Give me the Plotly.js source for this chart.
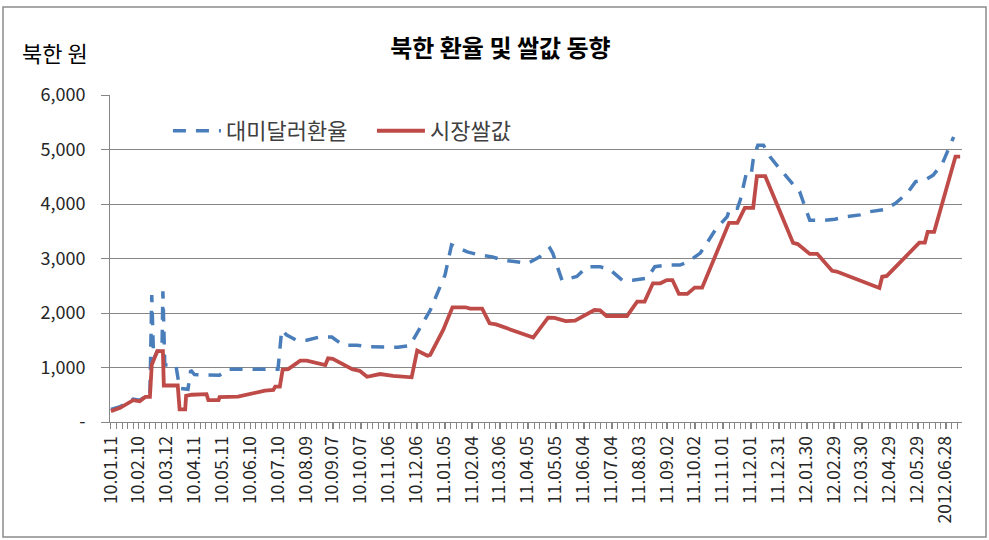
<!DOCTYPE html>
<html>
<head>
<meta charset="utf-8">
<script src="https://cdn.plot.ly/plotly-3.0.1.min.js"></script>
<style>
  html, body { margin: 0; padding: 0; background: #fff; }
  #chart { width: 989px; height: 540px; }
</style>
</head>
<body>
<div id="chart"></div>
<script>
// 축 눈금 (30일 간격 라벨)
const tickDates = ['2010-01-11','2010-02-10','2010-03-12','2010-04-11','2010-05-11','2010-06-10',
  '2010-07-10','2010-08-09','2010-09-07','2010-10-07','2010-11-06','2010-12-06','2011-01-05',
  '2011-02-04','2011-03-06','2011-04-05','2011-05-05','2011-06-04','2011-07-04','2011-08-03',
  '2011-09-02','2011-10-02','2011-11-01','2011-12-01','2011-12-31','2012-01-30','2012-02-29',
  '2012-03-30','2012-04-29','2012-05-29','2012-06-28'];
const tickLabels = ['10.01.11','10.02.10','10.03.12','10.04.11','10.05.11','10.06.10',
  '10.07.10','10.08.09','10.09.07','10.10.07','10.11.06','10.12.06','11.01.05',
  '11.02.04','11.03.06','11.04.05','11.05.05','11.06.04','11.07.04','11.08.03',
  '11.09.02','11.10.02','11.11.01','11.12.01','11.12.31','12.01.30','12.02.29',
  '12.03.30','12.04.29','12.05.29','2012.06.28'];
const yTickVals = [0, 1000, 2000, 3000, 4000, 5000, 6000];
const yTickText = ['-', '1,000', '2,000', '3,000', '4,000', '5,000', '6,000'];

// 대미달러환율 (북한 원)
const fxDates = ['2010-01-11','2010-01-21','2010-02-04','2010-02-11','2010-02-18','2010-02-22',
  '2010-02-24','2010-02-26','2010-03-02','2010-03-07','2010-03-08','2010-03-10','2010-03-22',
  '2010-03-26','2010-04-04','2010-04-07','2010-04-11','2010-05-08','2010-05-17','2010-07-10',
  '2010-07-14','2010-07-19','2010-07-30','2010-08-10','2010-08-24','2010-09-06','2010-09-18',
  '2010-10-03','2010-10-15','2010-10-25','2010-11-04','2010-11-16','2010-11-29','2010-12-21',
  '2011-01-06','2011-01-13','2011-01-30','2011-02-13','2011-02-26','2011-03-09','2011-03-24',
  '2011-04-05','2011-04-18','2011-04-29','2011-05-02','2011-05-12','2011-05-28','2011-06-08',
  '2011-06-22','2011-07-03','2011-07-16','2011-07-27','2011-08-12','2011-08-20','2011-09-02',
  '2011-09-16','2011-09-25','2011-10-08','2011-10-15','2011-10-24','2011-11-06','2011-11-09',
  '2011-11-17','2011-11-20','2011-11-27','2011-12-02','2011-12-04','2011-12-09','2011-12-15',
  '2011-12-22','2011-12-31','2012-01-10','2012-01-18','2012-01-23','2012-01-29','2012-02-03',
  '2012-02-17','2012-03-01','2012-03-14','2012-03-28','2012-04-08','2012-04-24','2012-05-05',
  '2012-05-18','2012-05-27','2012-06-06','2012-06-15','2012-06-25','2012-07-07'];
const fxValues = [230, 280, 420, 400, 480, 480,
  2330, 1150, 1300, 1300, 2400, 1050, 1040,
  620, 600, 950, 870, 860, 970, 970,
  1690, 1600, 1500, 1500, 1560, 1560, 1410,
  1410, 1380, 1380, 1370, 1370, 1400, 2050,
  2700, 3250, 3120, 3060, 3030, 2970, 2940,
  2910, 3030, 3190, 3100, 2600, 2670, 2850,
  2850, 2790, 2600, 2600, 2640, 2850, 2880,
  2880, 2940, 3100, 3280, 3520, 3770, 3920,
  3920, 4070, 4590, 4560, 4810, 5080, 5080,
  4870, 4680, 4470, 4320, 4230, 3950, 3700,
  3700, 3720, 3770, 3800, 3860, 3900, 4010,
  4200, 4410, 4440, 4530, 4750, 5230];

// 시장쌀값 (북한 원)
const riceDates = ['2010-01-11','2010-01-21','2010-02-04','2010-02-11','2010-02-17','2010-02-22',
  '2010-02-24','2010-03-02','2010-03-08','2010-03-09','2010-03-24','2010-03-26','2010-04-01',
  '2010-04-02','2010-04-08','2010-04-24','2010-04-26','2010-05-07','2010-05-08','2010-05-28',
  '2010-06-26','2010-07-05','2010-07-07','2010-07-12','2010-07-15','2010-07-21','2010-08-03',
  '2010-08-10','2010-08-30','2010-09-02','2010-09-07','2010-09-28','2010-10-06','2010-10-14',
  '2010-10-28','2010-11-11','2010-12-01','2010-12-07','2010-12-18','2010-12-21','2011-01-04',
  '2011-01-14','2011-01-28','2011-02-02','2011-02-15','2011-02-23','2011-03-02','2011-04-11',
  '2011-04-27','2011-05-04','2011-05-16','2011-05-26','2011-06-16','2011-06-22','2011-06-29',
  '2011-07-21','2011-08-01','2011-08-09','2011-08-18','2011-08-26','2011-09-02','2011-09-08',
  '2011-09-15','2011-09-24','2011-10-02','2011-10-10','2011-11-08','2011-11-17','2011-11-25',
  '2011-12-04','2011-12-08','2011-12-17','2012-01-16','2012-01-21','2012-02-03','2012-02-11',
  '2012-02-27','2012-03-03','2012-04-18','2012-04-21','2012-04-26','2012-05-31','2012-06-06',
  '2012-06-09','2012-06-16','2012-07-09','2012-07-14'];
const riceValues = [200, 260, 400, 380, 460, 460,
  1050, 1300, 1300, 670, 670, 230, 230,
  480, 500, 510, 400, 400, 455, 465,
  575, 590, 650, 650, 960, 970, 1125,
  1125, 1045, 1170, 1160, 970, 940, 830,
  880, 845, 820, 1310, 1215, 1230, 1690,
  2105, 2105, 2080, 2080, 1810, 1790, 1550,
  1915, 1910, 1850, 1860, 2055, 2050, 1945,
  1945, 2210, 2210, 2545, 2545, 2605, 2605,
  2350, 2350, 2465, 2465, 3655, 3655, 3930,
  3930, 4510, 4510, 3285, 3265, 3085, 3085,
  2775, 2760, 2460, 2665, 2680, 3290, 3290,
  3490, 3490, 4870, 4870];

const fontKR = '"Noto Sans CJK KR", "Noto Sans", sans-serif';
const gray = '#868686';

const traces = [
  {
    x: fxDates, y: fxValues, name: '대미달러환율',
    type: 'scatter', mode: 'lines',
    line: { color: '#4A7EBB', width: 3.5, dash: '13px,10px' }
  },
  {
    x: riceDates, y: riceValues, name: '시장쌀값',
    type: 'scatter', mode: 'lines',
    line: { color: '#BE4B48', width: 3.8 }
  }
];

const layout = {
  width: 989, height: 540,
  paper_bgcolor: '#fff', plot_bgcolor: '#fff',
  margin: { l: 110, r: 27, t: 95, b: 118 },
  font: { family: fontKR, color: '#262626' },
  showlegend: true,
  title: {
    text: '<b>북한 환율 및 쌀값 동향</b>',
    font: { size: 24, color: '#000', family: fontKR },
    x: 0.506, xref: 'container', xanchor: 'center',
    y: 0.91, yref: 'container', yanchor: 'middle'
  },
  legend: {
    orientation: 'h', x: 0.068, xanchor: 'left', y: 0.89, yanchor: 'middle',
    font: { size: 22, color: '#404040', family: fontKR },
    itemwidth: 48,
    bgcolor: 'rgba(0,0,0,0)', entrywidth: 141, entrywidthmode: 'pixels'
  },
  xaxis: {
    type: 'date',
    range: ['2010-01-10', '2012-07-16'],
    tickmode: 'array', tickvals: tickDates, ticktext: tickLabels,
    tickangle: -90,
    tickfont: { size: 17.5, color: '#262626', family: fontKR },
    ticks: 'outside', ticklen: 6, tickcolor: gray,
    minor: { ticks: 'outside', ticklen: 6, tickcolor: gray,
             tickmode: 'linear', tick0: '2010-01-11', dtick: 6 * 86400000, showgrid: false },
    showline: true, linecolor: gray, linewidth: 1,
    showgrid: false, zeroline: false
  },
  yaxis: {
    range: [0, 6000],
    tickmode: 'array', tickvals: yTickVals, ticktext: yTickText,
    tickfont: { size: 18, color: '#262626', family: fontKR },
    ticks: 'outside', ticklen: 8, tickcolor: gray,
    ticklabelstandoff: 12,
    showline: true, linecolor: gray, linewidth: 1,
    showgrid: true, gridcolor: gray, gridwidth: 1,
    zeroline: false
  },
  annotations: [{
    text: '북한 원', xref: 'paper', yref: 'paper',
    x: (55 - 110) / 852, y: (422 - 52) / 327,
    xanchor: 'center', yanchor: 'middle', showarrow: false,
    font: { size: 22, color: '#000', family: fontKR }
  }],
  shapes: [{
    type: 'rect', xref: 'paper', yref: 'paper',
    x0: (3 - 110) / 852, x1: (986 - 110) / 852,
    y0: (422 - 537) / 327, y1: (422 - 7) / 327,
    line: { color: '#8c8c8c', width: 1.5 }, layer: 'below'
  }]
};

Plotly.newPlot('chart', traces, layout, { displayModeBar: false, staticPlot: true });
</script>
</body>
</html>
